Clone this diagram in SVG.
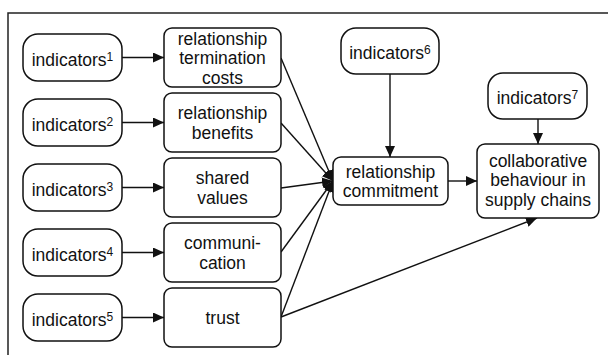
<svg xmlns="http://www.w3.org/2000/svg" width="608" height="355" viewBox="0 0 608 355">
<style>
.frame{fill:none;stroke:#222;stroke-width:1.5}
.ind{fill:#fff;stroke:#111;stroke-width:1.5}
.box{fill:#fff;stroke:#111;stroke-width:1.5}
text{font-family:"Liberation Sans",Arial,sans-serif;font-size:17.5px;fill:#111;text-anchor:middle}
.sup{font-size:12px}
.edge{stroke:#111;stroke-width:1.4;fill:none;marker-end:url(#ah)}
</style>
<defs>
<marker id="ah" markerUnits="userSpaceOnUse" markerWidth="12" markerHeight="10" refX="11" refY="5" orient="auto">
<path d="M0,0 L11,5 L0,10 Z" fill="#111"/>
</marker>
</defs>
<rect class="frame" x="8" y="13" width="620" height="360"/>
<g id="connectors">
<line class="edge" x1="122" y1="57.5" x2="164" y2="57.5"/>
<line class="edge" x1="122" y1="122.5" x2="164" y2="122.5"/>
<line class="edge" x1="122" y1="187.5" x2="164" y2="187.5"/>
<line class="edge" x1="122" y1="252.5" x2="164" y2="252.5"/>
<line class="edge" x1="122" y1="317.5" x2="164" y2="317.5"/>
<line class="edge" x1="281" y1="58" x2="333" y2="181"/>
<line class="edge" x1="281" y1="123" x2="333" y2="181"/>
<line class="edge" x1="281" y1="188" x2="333" y2="181"/>
<line class="edge" x1="281" y1="252" x2="333" y2="181"/>
<line class="edge" x1="281" y1="317" x2="333" y2="181"/>
<line class="edge" x1="281" y1="317" x2="537" y2="218"/>
<line class="edge" x1="390" y1="74" x2="390" y2="157"/>
<line class="edge" x1="538" y1="119" x2="538" y2="144"/>
<line class="edge" x1="448" y1="181" x2="477" y2="181"/>
</g>
<g id="ind1"><rect class="ind" x="23" y="34" width="99" height="47" rx="15"/><text x="72.5" y="65.5">indicators<tspan class="sup" dy="-5">1</tspan></text></g>
<g id="ind2"><rect class="ind" x="23" y="99" width="99" height="47" rx="15"/><text x="72.5" y="130.5">indicators<tspan class="sup" dy="-5">2</tspan></text></g>
<g id="ind3"><rect class="ind" x="23" y="164" width="99" height="47" rx="15"/><text x="72.5" y="195.5">indicators<tspan class="sup" dy="-5">3</tspan></text></g>
<g id="ind4"><rect class="ind" x="23" y="229" width="99" height="47" rx="15"/><text x="72.5" y="260.5">indicators<tspan class="sup" dy="-5">4</tspan></text></g>
<g id="ind5"><rect class="ind" x="23" y="294" width="99" height="47" rx="15"/><text x="72.5" y="325.5">indicators<tspan class="sup" dy="-5">5</tspan></text></g>
<g id="ind6"><rect class="ind" x="341" y="28" width="98" height="46" rx="15"/><text x="390" y="59">indicators<tspan class="sup" dy="-5">6</tspan></text></g>
<g id="ind7"><rect class="ind" x="488" y="73" width="99" height="46" rx="15"/><text x="537.5" y="104">indicators<tspan class="sup" dy="-5">7</tspan></text></g>
<g id="costs"><rect class="box" x="164" y="28" width="117" height="59" rx="8"/><text x="222.5" y="44.5">relationship</text><text x="222.5" y="64">termination</text><text x="222.5" y="83.5">costs</text></g>
<g id="benefits"><rect class="box" x="164" y="93" width="117" height="59" rx="8"/><text x="222.5" y="119.25">relationship</text><text x="222.5" y="138.75">benefits</text></g>
<g id="values"><rect class="box" x="164" y="158" width="117" height="59" rx="8"/><text x="222.5" y="184.25">shared</text><text x="222.5" y="203.75">values</text></g>
<g id="communication"><rect class="box" x="164" y="223" width="117" height="59" rx="8"/><text x="222.5" y="249.25">communi-</text><text x="222.5" y="268.75">cation</text></g>
<g id="trust"><rect class="box" x="164" y="288" width="117" height="59" rx="8"/><text x="222.5" y="324">trust</text></g>
<g id="commitment"><rect class="box" x="333" y="157" width="115" height="48" rx="8"/><text x="390.5" y="177.75">relationship</text><text x="390.5" y="197.25">commitment</text></g>
<g id="collab"><rect class="box" x="477" y="144" width="122" height="74" rx="8"/><text x="538" y="166.5">collaborative</text><text x="538" y="186">behaviour in</text><text x="538" y="205.5">supply chains</text></g>
</svg>
